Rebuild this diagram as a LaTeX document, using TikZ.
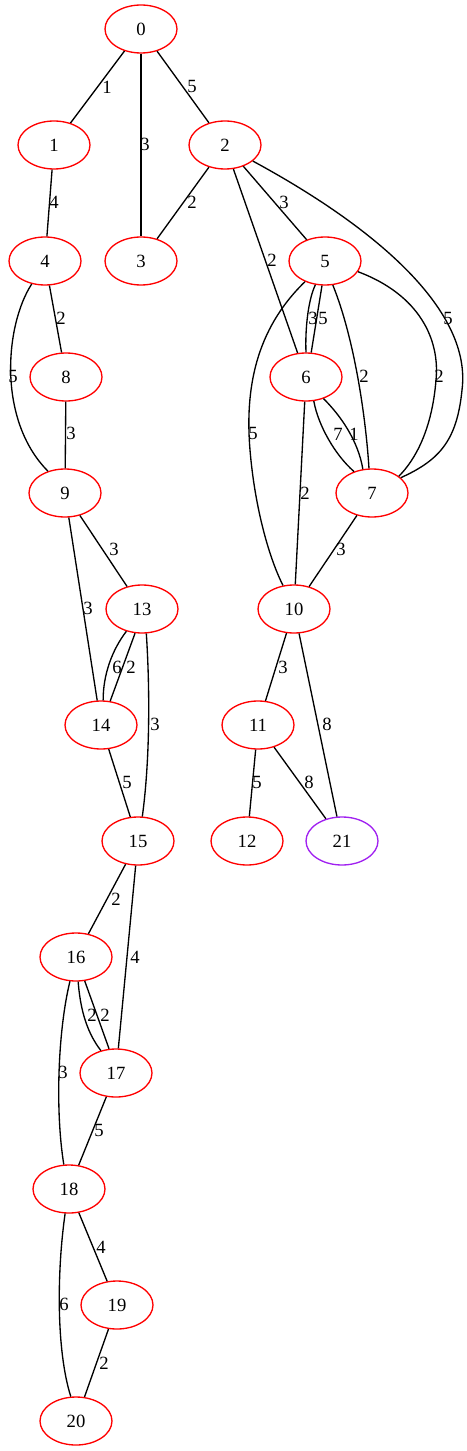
\documentclass[tikz,border=0pt]{standalone}
\usepackage{fontspec}
\setmainfont{Liberation Serif}
\usetikzlibrary{shapes.geometric}
\definecolor{gvpurple}{RGB}{160,32,240}
\begin{document}
\begin{tikzpicture}[x=0.75pt,y=-0.75pt,
  vert/.style={ellipse, draw=red, line width=1pt, minimum width=54pt, minimum height=36pt, inner sep=0pt, font=\fontsize{14}{16}\selectfont},
  edge/.style={line width=1pt, black},
  elab/.style={font=\fontsize{14}{16}\selectfont, inner sep=0pt}]
\useasboundingbox (0,0) rectangle (467,1451);
% nodes
\node[vert] (n0) at (141,29) {0};
\node[vert] (n1) at (54,145) {1};
\node[vert] (n2) at (225,145) {2};
\node[vert] (n3) at (141,261) {3};
\node[vert] (n4) at (45,261) {4};
\node[vert] (n5) at (325,261) {5};
\node[vert] (n8) at (66,377) {8};
\node[vert] (n6) at (306,377) {6};
\node[vert] (n9) at (65,493) {9};
\node[vert] (n7) at (372,493) {7};
\node[vert] (n13) at (142,609) {13};
\node[vert] (n10) at (294,609) {10};
\node[vert] (n14) at (101,725) {14};
\node[vert] (n11) at (258,725) {11};
\node[vert] (n15) at (138,841) {15};
\node[vert] (n12) at (247,841) {12};
\node[vert, draw=gvpurple] (n21) at (342,841) {21};
\node[vert] (n16) at (76,957) {16};
\node[vert] (n17) at (116,1073) {17};
\node[vert] (n18) at (69,1189) {18};
\node[vert] (n19) at (117,1305) {19};
\node[vert] (n20) at (76,1421) {20};
% edges
\draw[edge] (n0) -- (n1);
\draw[edge] (n0) -- (n3);
\draw[edge] (n0) -- (n2);
\draw[edge] (n1) -- (n4);
\draw[edge] (n2) -- (n3);
\draw[edge] (n2) -- (n6);
\draw[edge] (n2) -- (n5);
\draw[edge] (n2.330) .. controls (380,230) and (472,312) .. (462,390) .. controls (457,440) and (440,460) .. (n7.28);
\draw[edge] (n4) -- (n8);
\draw[edge] (n4.240) .. controls (5,325) and (-3,420) .. (n9.128);
\draw[edge] (n8) -- (n9);
\draw[edge] (n5.248) .. controls (308,300) and (305,330) .. (n6.90);
\draw[edge] (n5.263) -- (n6.78);
\draw[edge] (n5.288) .. controls (355,340) and (366,420) .. (n7.97);
\draw[edge] (n5.342) .. controls (420,295) and (440,340) .. (436,380) .. controls (432,430) and (415,460) .. (n7.32);
\draw[edge] (n5.226) .. controls (255,330) and (245,390) .. (250,450) .. controls (255,510) and (270,560) .. (n10.115);
\draw[edge] (n6.288) .. controls (318,425) and (335,455) .. (n7.130);
\draw[edge] (n6.309) .. controls (340,415) and (358,440) .. (n7.111);
\draw[edge] (n6) -- (n10);
\draw[edge] (n7) -- (n10);
\draw[edge] (n9) -- (n13);
\draw[edge] (n9) -- (n14);
\draw[edge] (n13.235) .. controls (112,650) and (103,675) .. (n14.85);
\draw[edge] (n13.254) -- (n14.69);
\draw[edge] (n13.280) .. controls (150,690) and (150,760) .. (n15.80);
\draw[edge] (n14) -- (n15);
\draw[edge] (n10) -- (n11);
\draw[edge] (n10) -- (n21);
\draw[edge] (n11) -- (n12);
\draw[edge] (n11) -- (n21);
\draw[edge] (n15) -- (n16);
\draw[edge] (n15) -- (n17);
\draw[edge] (n16.275) .. controls (80,1005) and (85,1030) .. (n17.124);
\draw[edge] (n16.290) -- (n17.106);
\draw[edge] (n16.256) .. controls (58,1030) and (55,1110) .. (n18.102);
\draw[edge] (n17) -- (n18);
\draw[edge] (n18) -- (n19);
\draw[edge] (n18.261) .. controls (57,1270) and (56,1350) .. (n20.102);
\draw[edge] (n19) -- (n20);
% labels
\node[elab] (l01) at (107,87) {1};
\node[elab] (l03) at (145,144) {3};
\node[elab] (l02) at (192,86) {5};
\node[elab] (l14) at (54,202) {4};
\node[elab] (l23) at (192,202) {2};
\node[elab] (l25) at (284,202) {3};
\node[elab] (l26) at (272,260) {2};
\node[elab] (l27) at (448,318) {5};
\node[elab] (l56a) at (313,318) {3};
\node[elab] (l56b) at (323,318) {5};
\node[elab] (l57a) at (364,376) {2};
\node[elab] (l57b) at (439,376) {2};
\node[elab] (l510) at (253,433) {5};
\node[elab] (l67a) at (338,434) {7};
\node[elab] (l67b) at (354,434) {1};
\node[elab] (l610) at (305,493) {2};
\node[elab] (l710) at (341,549) {3};
\node[elab] (l48) at (61,318) {2};
\node[elab] (l49) at (13,376) {5};
\node[elab] (l89) at (71,433) {3};
\node[elab] (l913) at (114,549) {3};
\node[elab] (l914) at (88,608) {3};
\node[elab] (l1314a) at (117,667) {6};
\node[elab] (l1314b) at (131,667) {2};
\node[elab] (l1315) at (155,724) {3};
\node[elab] (l1415) at (127,782) {5};
\node[elab] (l1011) at (283,667) {3};
\node[elab] (l1021) at (327,724) {8};
\node[elab] (l1112) at (257,782) {5};
\node[elab] (l1121) at (309,782) {8};
\node[elab] (l1516) at (116,899) {2};
\node[elab] (l1517) at (135,957) {4};
\node[elab] (l1617a) at (92,1015) {2};
\node[elab] (l1617b) at (105,1015) {2};
\node[elab] (l1618) at (63,1072) {3};
\node[elab] (l1718) at (99,1130) {5};
\node[elab] (l1819) at (101,1247) {4};
\node[elab] (l1820) at (64,1304) {6};
\node[elab] (l1920) at (104,1363) {2};
\end{tikzpicture}
\end{document}
